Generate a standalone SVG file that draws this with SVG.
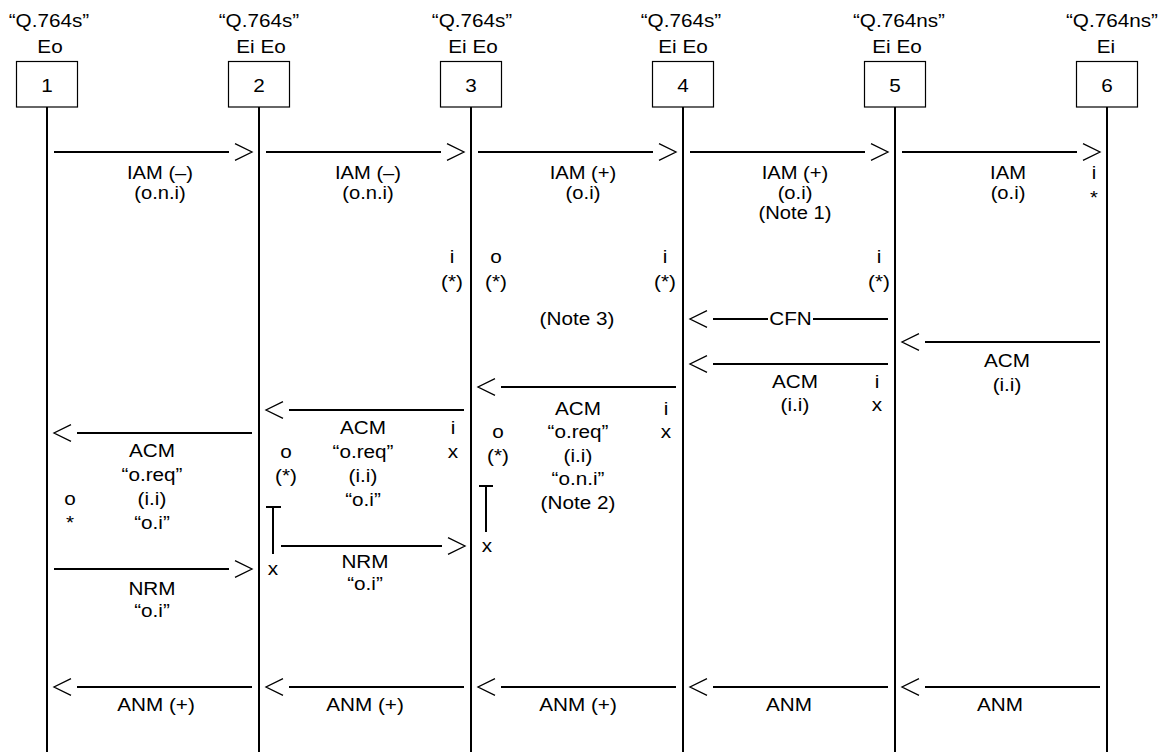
<svg xmlns="http://www.w3.org/2000/svg" width="1168" height="752" viewBox="0 0 1168 752">
<style>
text { font-family: "Liberation Sans", Arial, sans-serif; font-size: 19px; fill: #000; text-anchor: middle; transform-box: fill-box; transform-origin: center; transform: scaleX(1.09); }
.sm { font-size: 18.5px; }
.box { fill: #fff; stroke: #000; stroke-width: 1.2; }
.ll { stroke: #000; stroke-width: 2; fill: none; }
.msg { stroke: #000; stroke-width: 2; fill: none; }
.msgm { stroke: #000; stroke-width: 2; fill: none; marker-end: url(#chev); }
.tm { stroke: #000; stroke-width: 2; fill: none; }
</style>
<defs>
<marker id="chev" markerUnits="userSpaceOnUse" viewBox="-2 -10 30 20" markerWidth="30" markerHeight="20" refX="0" refY="0" orient="auto" overflow="visible">
<path d="M6,-8.3 L23,0 L6,8.3" fill="none" stroke="#000" stroke-width="1.3"/>
</marker>
</defs>
<rect width="1168" height="752" fill="#fff"/>

<g id="node1">
<text x="49" y="27">“Q.764s”</text>
<text x="50" y="53">Eo</text>
<line class="ll" x1="47" y1="107" x2="47" y2="752"/>
<rect class="box" x="16.5" y="61.5" width="61" height="45.5"/>
<text x="47" y="92">1</text>
</g>
<g id="node2">
<text x="259" y="27">“Q.764s”</text>
<text x="261" y="53">Ei Eo</text>
<line class="ll" x1="259" y1="107" x2="259" y2="752"/>
<rect class="box" x="228.5" y="61.5" width="61" height="45.5"/>
<text x="259" y="92">2</text>
</g>
<g id="node3">
<text x="472" y="27">“Q.764s”</text>
<text x="473" y="53">Ei Eo</text>
<line class="ll" x1="471" y1="107" x2="471" y2="752"/>
<rect class="box" x="440.5" y="61.5" width="61" height="45.5"/>
<text x="471" y="92">3</text>
</g>
<g id="node4">
<text x="681" y="27">“Q.764s”</text>
<text x="683" y="53">Ei Eo</text>
<line class="ll" x1="683" y1="107" x2="683" y2="752"/>
<rect class="box" x="652.5" y="61.5" width="61" height="45.5"/>
<text x="683" y="92">4</text>
</g>
<g id="node5">
<text x="899" y="27">“Q.764ns”</text>
<text x="897" y="53">Ei Eo</text>
<line class="ll" x1="895" y1="107" x2="895" y2="752"/>
<rect class="box" x="864.5" y="61.5" width="61" height="45.5"/>
<text x="895" y="92">5</text>
</g>
<g id="node6">
<text x="1112" y="27">“Q.764ns”</text>
<text x="1106" y="53">Ei</text>
<line class="ll" x1="1107" y1="107" x2="1107" y2="752"/>
<rect class="box" x="1076.5" y="61.5" width="61" height="45.5"/>
<text x="1107" y="92">6</text>
</g>

<g id="connectors">
<!-- IAM row -->
<line class="msgm" x1="54" y1="152" x2="229" y2="152"/>
<line class="msgm" x1="266" y1="152" x2="441" y2="152"/>
<line class="msgm" x1="478" y1="152" x2="653" y2="152"/>
<line class="msgm" x1="690" y1="152" x2="865" y2="152"/>
<line class="msgm" x1="902" y1="152" x2="1077" y2="152"/>
<!-- CFN -->
<line class="msgm" x1="768" y1="319" x2="713" y2="319"/>
<line class="msg" x1="813" y1="319" x2="888" y2="319"/>
<!-- ACM -->
<line class="msgm" x1="1100" y1="342" x2="925" y2="342"/>
<line class="msgm" x1="888" y1="364" x2="713" y2="364"/>
<line class="msgm" x1="676" y1="387" x2="501" y2="387"/>
<line class="msgm" x1="464" y1="410" x2="289" y2="410"/>
<line class="msgm" x1="252" y1="433" x2="77" y2="433"/>
<!-- NRM -->
<line class="msgm" x1="281" y1="546" x2="442" y2="546"/>
<line class="msgm" x1="54" y1="569" x2="229" y2="569"/>
<!-- T marks -->
<path class="tm" d="M266,507 H281 M273,507 V554"/>
<path class="tm" d="M479,486 H493 M486,486 V532"/>
<!-- ANM row -->
<line class="msgm" x1="1100" y1="687" x2="925" y2="687"/>
<line class="msgm" x1="888" y1="687" x2="713" y2="687"/>
<line class="msgm" x1="676" y1="687" x2="501" y2="687"/>
<line class="msgm" x1="464" y1="687" x2="289" y2="687"/>
<line class="msgm" x1="252" y1="687" x2="77" y2="687"/>
</g>

<g id="labels">
<text class="sm" x="160" y="179">IAM (–)</text>
<text class="sm" x="160" y="199">(o.n.i)</text>
<text class="sm" x="368" y="179">IAM (–)</text>
<text class="sm" x="368" y="199">(o.n.i)</text>
<text class="sm" x="583" y="179">IAM (+)</text>
<text class="sm" x="583" y="199">(o.i)</text>
<text class="sm" x="795" y="179">IAM (+)</text>
<text class="sm" x="795" y="199">(o.i)</text>
<text class="sm" x="795" y="219">(Note 1)</text>
<text class="sm" x="1008" y="179">IAM</text>
<text class="sm" x="1008" y="199">(o.i)</text>
<text class="sm" x="1094" y="179">i</text>
<text class="sm" x="1094" y="204">*</text>

<text x="452" y="263">i</text>
<text x="452" y="288">(*)</text>
<text x="496" y="263">o</text>
<text x="496" y="288">(*)</text>
<text x="665" y="263">i</text>
<text x="665" y="288">(*)</text>
<text x="879" y="263">i</text>
<text x="879" y="288">(*)</text>
<text x="577" y="325">(Note 3)</text>
<text x="790.5" y="325">CFN</text>

<text x="1007" y="367">ACM</text>
<text x="1007" y="391">(i.i)</text>

<text x="795" y="388">ACM</text>
<text x="795" y="411">(i.i)</text>
<text x="877" y="388">i</text>
<text x="877" y="411">x</text>

<text x="578" y="415">ACM</text>
<text x="578" y="438.5">“o.req”</text>
<text x="578" y="462">(i.i)</text>
<text x="578" y="485.5">“o.n.i”</text>
<text x="578" y="509">(Note 2)</text>
<text x="666" y="415">i</text>
<text x="666" y="438.5">x</text>
<text x="498" y="438.5">o</text>
<text x="498" y="462">(*)</text>

<text x="363" y="434">ACM</text>
<text x="363" y="458">“o.req”</text>
<text x="363" y="482">(i.i)</text>
<text x="363" y="506">“o.i”</text>
<text x="453" y="434">i</text>
<text x="453" y="458">x</text>
<text x="286" y="458">o</text>
<text x="286" y="482">(*)</text>

<text x="152" y="457">ACM</text>
<text x="152" y="481">“o.req”</text>
<text x="152" y="505">(i.i)</text>
<text x="152" y="529">“o.i”</text>
<text x="70" y="505">o</text>
<text x="70" y="529">*</text>

<text x="365" y="568">NRM</text>
<text x="365" y="590">“o.i”</text>
<text x="273" y="575">x</text>
<text x="487" y="552">x</text>

<text x="152" y="595">NRM</text>
<text x="152" y="617">“o.i”</text>

<text x="156" y="711">ANM (+)</text>
<text x="365" y="711">ANM (+)</text>
<text x="578" y="711">ANM (+)</text>
<text x="789" y="711">ANM</text>
<text x="1000" y="711">ANM</text>
</g>
</svg>
